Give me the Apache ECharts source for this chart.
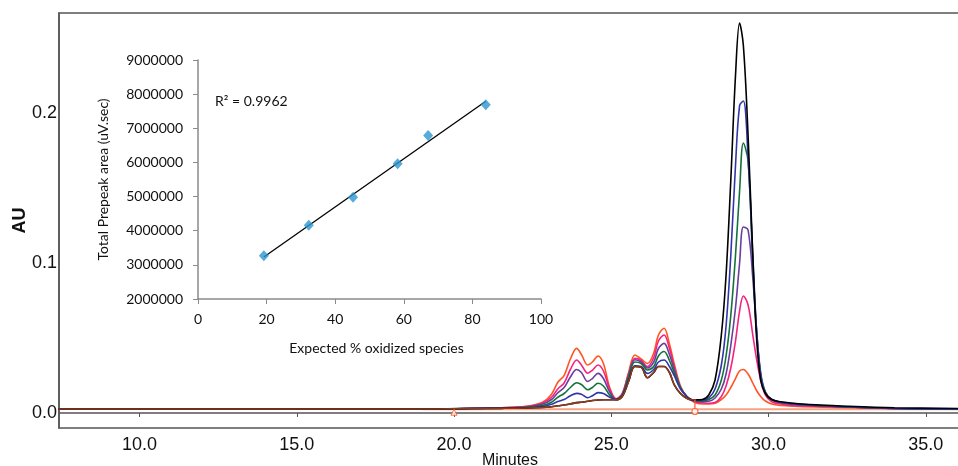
<!DOCTYPE html>
<html><head><meta charset="utf-8">
<script src="https://cdn.jsdelivr.net/npm/echarts@6/dist/echarts.min.js"></script>
<style>html,body{margin:0;padding:0;background:#fff;}#c{width:958px;height:466px;}</style>
</head><body><div id="c"></div>
<script>
// ---- Chromatogram data (minutes vs AU) ----
const minutes = [7.4, 12, 16, 19, 20.5, 21.5, 22.3, 22.8,
  23.1, 23.3, 23.5, 23.7, 23.9, 24.05, 24.25, 24.4, 24.58, 24.75, 24.95, 25.15, 25.35,
  25.55, 25.75, 25.95, 26.15, 26.35, 26.5, 26.68, 26.85, 27.0, 27.2, 27.4, 27.55, 27.7,
  27.9, 28.1, 28.3, 28.5, 28.65, 28.8, 28.95, 29.08, 29.2, 29.35, 29.5, 29.62, 29.75, 29.9,
  30.1, 30.4, 30.8, 31.5, 32.5, 34, 36.2];

const auOrange = [0.0027, 0.0027, 0.0027, 0.0027, 0.003, 0.0035, 0.0045, 0.007,
  0.0125, 0.0205, 0.025, 0.036, 0.0431, 0.039, 0.032, 0.034, 0.038, 0.033, 0.017, 0.0095, 0.013,
  0.027, 0.0387, 0.036, 0.033, 0.040, 0.052, 0.0565, 0.046, 0.033, 0.018, 0.011, 0.0085, 0.0066,
  0.006, 0.006, 0.0065, 0.009, 0.012, 0.017, 0.023, 0.028, 0.029, 0.026, 0.02, 0.015, 0.011, 0.008,
  0.006, 0.005, 0.0045, 0.004, 0.0035, 0.003, 0.0025];

const auPink = [0.0027, 0.0027, 0.0027, 0.0027, 0.003, 0.0035, 0.0043, 0.0065,
  0.0105, 0.016, 0.02, 0.029, 0.0353, 0.032, 0.0265, 0.0285, 0.032, 0.028, 0.016, 0.0095, 0.013,
  0.026, 0.0365, 0.035, 0.031, 0.037, 0.048, 0.052, 0.043, 0.031, 0.017, 0.011, 0.0085, 0.0072,
  0.0068, 0.0065, 0.007, 0.011, 0.018, 0.03, 0.048, 0.068, 0.078, 0.072, 0.052, 0.036, 0.022, 0.012,
  0.0075, 0.006, 0.005, 0.0045, 0.004, 0.003, 0.0025];

const auPurple = [0.0027, 0.0027, 0.0027, 0.0027, 0.003, 0.0034, 0.004, 0.0058,
  0.009, 0.0135, 0.017, 0.024, 0.029, 0.027, 0.021, 0.023, 0.0264, 0.023, 0.014, 0.009, 0.0125,
  0.025, 0.0355, 0.034, 0.030, 0.034, 0.043, 0.0464, 0.039, 0.029, 0.017, 0.011, 0.0087, 0.0078,
  0.0075, 0.0078, 0.01, 0.016, 0.026, 0.045, 0.07, 0.1, 0.124, 0.122, 0.09, 0.055, 0.027, 0.014,
  0.009, 0.007, 0.006, 0.005, 0.004, 0.003, 0.0025];

const auGreen = [0.0027, 0.0027, 0.0027, 0.0027, 0.003, 0.0033, 0.0038, 0.005,
  0.0072, 0.0105, 0.013, 0.017, 0.0202, 0.019, 0.0155, 0.017, 0.0198, 0.018, 0.012, 0.009, 0.012,
  0.024, 0.034, 0.033, 0.0287, 0.031, 0.038, 0.041, 0.035, 0.027, 0.017, 0.011, 0.0088, 0.0082,
  0.008, 0.009, 0.012, 0.022, 0.038, 0.065, 0.105, 0.148, 0.18, 0.168, 0.1, 0.055, 0.026, 0.014,
  0.009, 0.007, 0.006, 0.005, 0.004, 0.003, 0.0025];

const auBlue = [0.0027, 0.0027, 0.0027, 0.0027, 0.003, 0.0032, 0.0035, 0.0043,
  0.0058, 0.0076, 0.009, 0.0115, 0.0131, 0.0125, 0.0102, 0.0115, 0.0136, 0.013, 0.0105, 0.009, 0.0115,
  0.022, 0.0315, 0.031, 0.0264, 0.029, 0.034, 0.0353, 0.031, 0.025, 0.016, 0.011, 0.009, 0.0085,
  0.0085, 0.01, 0.016, 0.032, 0.058, 0.105, 0.165, 0.205, 0.208, 0.17, 0.105, 0.055, 0.025, 0.013,
  0.009, 0.007, 0.006, 0.005, 0.004, 0.003, 0.0025];

const auBrown = [0.0027, 0.0027, 0.0027, 0.0027, 0.003, 0.0031, 0.0033, 0.0037,
  0.0042, 0.0048, 0.0053, 0.006, 0.0069, 0.0072, 0.0078, 0.0083, 0.0087, 0.0088, 0.0088, 0.0088, 0.011,
  0.021, 0.031, 0.0305, 0.0235, 0.027, 0.031, 0.031, 0.027, 0.019, 0.013, 0.0098, 0.0088, 0.0088];

const auBlack = [0.0027, 0.0027, 0.0027, 0.0027, 0.003, 0.0031, 0.0033, 0.0037,
  0.0042, 0.0048, 0.0053, 0.006, 0.0069, 0.0072, 0.0078, 0.0083, 0.0087, 0.0088, 0.0088, 0.0088, 0.011,
  0.021, 0.031, 0.0305, 0.0235, 0.027, 0.031, 0.031, 0.027, 0.019, 0.013, 0.0098, 0.0088, 0.0088,
  0.009, 0.012, 0.022, 0.052, 0.092, 0.155, 0.225, 0.26, 0.245, 0.185, 0.105, 0.05, 0.022, 0.013,
  0.009, 0.0075, 0.0065, 0.0055, 0.0045, 0.0035, 0.003];

// integration baseline and markers
const baselineX = [19.0, 36.2];
const baselineY = [0.0025, 0.0025];
const startMarker = [20.0, 0.0005];
const endMarker = [27.66, 0.001];
const dropLineY = [0.001, 0.0087];

const mainXTicks = [10, 15, 20, 25, 30, 35];
const mainYTicks = [0, 0.1, 0.2];

// ---- Inset calibration data ----
const expectedPct = [19.2, 32.3, 45.2, 58.2, 67.1, 83.9];
const prepeakArea = [3270000, 4160000, 4980000, 5960000, 6790000, 7690000];
const trendX = [19.2, 83.9];
const trendY = [3230000, 7790000];
const r2Label = 'R² = 0.9962';

function pairs(xs, ys) { return ys.map((v, i) => [xs[i], v]); }

const traceDefs = [
  { name: 'orange', data: auOrange, color: '#ff5522' },
  { name: 'pink', data: auPink, color: '#f5237f' },
  { name: 'purple', data: auPurple, color: '#6a3d9f' },
  { name: 'green', data: auGreen, color: '#13713a' },
  { name: 'blue', data: auBlue, color: '#3036a8' },
  { name: 'black', data: auBlack, color: '#000000' },
  { name: 'brown', data: auBrown, color: '#8e3a1c' }
];

const chart = echarts.init(document.getElementById('c'), null, { renderer: 'canvas' });

const mainFont = 'Liberation Sans, Arial, sans-serif';
const insetFont = 'Lato, Carlito, sans-serif';

const series = [];
series.push({
  type: 'line', xAxisIndex: 0, yAxisIndex: 0, data: pairs(baselineX, baselineY),
  symbol: 'none', lineStyle: { color: '#f7a384', width: 2 }, silent: true, z: 1
});
traceDefs.forEach(t => {
  series.push({
    type: 'line', name: t.name, xAxisIndex: 0, yAxisIndex: 0,
    data: pairs(minutes, t.data), symbol: 'none', smooth: 0.35,
    lineStyle: { color: t.color, width: 1.6 }, z: 2
  });
});
series.push({
  type: 'line', xAxisIndex: 0, yAxisIndex: 0,
  data: dropLineY.map(v => [endMarker[0], v]), symbol: 'none',
  lineStyle: { color: '#ff5522', width: 1.2 }, z: 3
});
series.push({
  type: 'scatter', xAxisIndex: 0, yAxisIndex: 0, data: [startMarker],
  symbol: 'triangle', symbolSize: 6,
  itemStyle: { color: '#fff', borderColor: '#ff5522', borderWidth: 1 }, z: 4
});
series.push({
  type: 'scatter', xAxisIndex: 0, yAxisIndex: 0, data: [endMarker],
  symbol: 'circle', symbolSize: 6,
  itemStyle: { color: '#fff', borderColor: '#ff5522', borderWidth: 1.2 }, z: 4
});
// inset
series.push({
  type: 'line', xAxisIndex: 1, yAxisIndex: 1, data: pairs(trendX, trendY),
  symbol: 'none', lineStyle: { color: '#000', width: 1.3 }, z: 12
});
series.push({
  type: 'scatter', xAxisIndex: 1, yAxisIndex: 1, data: pairs(expectedPct, prepeakArea),
  symbol: 'diamond', symbolSize: [10, 11], itemStyle: { color: '#2a96d0' }, z: 13
});

chart.setOption({
  animation: false,
  backgroundColor: '#fff',
  grid: [
    { left: 59, top: 13, right: -3, bottom: 38, show: true, borderColor: '#555', borderWidth: 1.5,
      backgroundColor: 'transparent', outerBoundsMode: 'none', containLabel: false },
    { left: 198, top: 60, right: 417, bottom: 167, show: false, z: 10,
      outerBoundsMode: 'none', containLabel: false }
  ],
  xAxis: [
    {
      type: 'value', gridIndex: 0, min: 7.44, max: 36.12,
      name: 'Minutes', nameLocation: 'middle', nameGap: 25, nameMoveOverlap: false,
      nameTextStyle: { fontFamily: mainFont, fontSize: 16, color: '#111' },
      axisLine: { show: true, lineStyle: { color: '#555', width: 1.5 } },
      axisTick: { show: true, length: 4, customValues: mainXTicks, lineStyle: { color: '#555' } },
      axisLabel: { customValues: mainXTicks, formatter: v => v.toFixed(1), fontFamily: mainFont, fontSize: 18, color: '#111', margin: 8 },
      splitLine: { show: false }
    },
    {
      type: 'value', gridIndex: 1, min: 0, max: 100, interval: 20,
      name: 'Expected % oxidized species', nameLocation: 'middle', nameGap: 42,
      nameTextStyle: { fontFamily: insetFont, fontSize: 14, color: '#111', padding: [0, 0, 0, 14] },
      axisLine: { show: true, onZero: false, lineStyle: { color: '#8a8a8a', width: 1.5 } },
      axisTick: { show: true, length: 5, lineStyle: { color: '#8a8a8a' } },
      axisLabel: { fontFamily: insetFont, fontSize: 14, color: '#111', margin: 13 },
      splitLine: { show: false }
    }
  ],
  yAxis: [
    {
      type: 'value', gridIndex: 0, min: -0.01, max: 0.2667,
      name: 'AU', nameLocation: 'middle', nameGap: 30, nameMoveOverlap: false,
      nameTextStyle: { fontFamily: mainFont, fontSize: 18, fontWeight: 'bold', color: '#111' },
      axisLine: { show: true, lineStyle: { color: '#555', width: 1.5 } },
      axisTick: { show: false },
      axisLabel: { customValues: mainYTicks, formatter: v => v.toFixed(1), fontFamily: mainFont, fontSize: 18, color: '#111', margin: 2 },
      splitLine: { show: false }
    },
    {
      type: 'value', gridIndex: 1, min: 2000000, max: 9000000, interval: 1000000,
      name: 'Total Prepeak area (uV.sec)', nameLocation: 'middle', nameGap: 88,
      nameTextStyle: { fontFamily: insetFont, fontSize: 14, color: '#111' },
      axisLine: { show: true, onZero: false, lineStyle: { color: '#8a8a8a', width: 1.5 } },
      axisTick: { show: true, length: 5, lineStyle: { color: '#8a8a8a' } },
      axisLabel: { formatter: v => String(Math.round(v)), fontFamily: insetFont, fontSize: 14, color: '#111', margin: 15 },
      splitLine: { show: false }
    }
  ],
  graphic: [
    { type: 'text', left: 215, top: 94, z: 20,
      style: { text: r2Label, fontFamily: insetFont, fontSize: 14, fill: '#111' } }
  ],
  series: series
});
</script>
</body></html>
